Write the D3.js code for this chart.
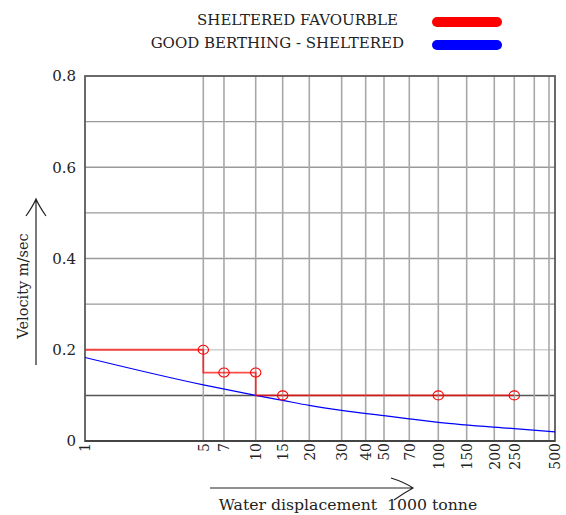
<!DOCTYPE html>
<html>
<head>
<meta charset="utf-8">
<script src="https://cdn.jsdelivr.net/npm/d3@7"></script>
<style>
  html, body { margin: 0; padding: 0; background: #fff; }
  svg { display: block; }
  text { font-family: "DejaVu Serif", "Liberation Serif", serif; fill: #222; white-space: pre; }
</style>
</head>
<body>
<svg id="chart" width="566" height="515"></svg>
<script>
// ---- data ----
const xTickValues = [1, 5, 7, 10, 15, 20, 30, 40, 50, 70, 100, 150, 200, 250, 500];
const xGridExtra = [300, 400];               // unlabelled grid lines
const yTickValues = [0, 0.2, 0.4, 0.6, 0.8];
const yGridValues = [0.1, 0.2, 0.3, 0.4, 0.5, 0.6, 0.7];

// Sheltered favourable (red step line)
const redStepX = [1, 5, 10, 250];
const redStepY = [0.2, 0.15, 0.1, 0.1];
const redMarkerX = [5, 7, 10, 15, 100, 250];
const redMarkerY = [0.2, 0.15, 0.15, 0.1, 0.1, 0.1];

// Good berthing - sheltered (blue curve)
const blueX = [1, 5, 10, 15, 20, 30, 50, 70, 100, 250, 500];
const blueY = [0.183, 0.123, 0.1, 0.089, 0.078, 0.067, 0.0555, 0.0485, 0.041, 0.027, 0.02];

const legendLabels = ["SHELTERED FAVOURBLE", "GOOD BERTHING - SHELTERED"];
const legendColors = ["#ff0000", "#0000ff"];
const yTitle = "Velocity m/sec";
const xTitle = "Water displacement  1000 tonne";

// ---- layout ----
const pLeft = 85, pRight = 555, pTop = 76, pBottom = 441;
// the chart's x axis is a hand-spaced, roughly logarithmic scale
const xDomainKnots = [1, 5, 7, 10, 15, 20, 30, 40, 50, 70, 100, 150, 200, 250, 300, 400, 500];
const xRangeFrac = [0, 0.2517, 0.2957, 0.3632, 0.4206, 0.4772, 0.5461, 0.5972, 0.6362, 0.6900, 0.7517, 0.8121, 0.8708, 0.9134, 0.9559, 0.9872, 1];

const svg = d3.select("#chart");
const x = d3.scaleLinear()
  .domain(xDomainKnots)
  .range(xRangeFrac.map(f => pLeft + f * (pRight - pLeft)));
const y = d3.scaleLinear().domain([0, 0.8]).range([pBottom, pTop]);

// horizontal grid
svg.append("g").selectAll("line").data(yGridValues).join("line")
  .attr("x1", pLeft).attr("x2", pRight)
  .attr("y1", d => y(d)).attr("y2", d => y(d))
  .attr("stroke", d => d === 0.1 ? "#555" : (d === 0.2 ? "#cfcfcf" : "#9a9a9a"))
  .attr("stroke-width", d => d === 0.1 ? 1.5 : 1.3);

// vertical grid
const xGridVals = xTickValues.filter(v => v !== 1 && v !== 500).concat(xGridExtra);
svg.append("g").selectAll("line").data(xGridVals).join("line")
  .attr("x1", d => x(d)).attr("x2", d => x(d))
  .attr("y1", pTop).attr("y2", pBottom)
  .attr("stroke", "#a8a8a8")
  .attr("stroke-width", 1.6);

// frame
svg.append("rect")
  .attr("x", pLeft).attr("y", pTop)
  .attr("width", pRight - pLeft).attr("height", pBottom - pTop)
  .attr("fill", "none").attr("stroke", "#5a5a5a").attr("stroke-width", 1.8);
svg.append("line")
  .attr("x1", pLeft).attr("x2", pRight).attr("y1", pBottom).attr("y2", pBottom)
  .attr("stroke", "#444").attr("stroke-width", 2);

// y axis labels
const yAxis = d3.axisLeft(y).tickValues(yTickValues)
  .tickFormat(d => d === 0 ? "0" : d3.format(".1f")(d))
  .tickSize(0).tickPadding(9);
const gy = svg.append("g").attr("transform", `translate(${pLeft},0)`).call(yAxis);
gy.select(".domain").remove();
gy.selectAll("text").style("font-family", '"DejaVu Serif", serif').style("font-size", "15px").attr("fill", "#222");

// x axis labels (rotated)
const xAxis = d3.axisBottom(x).tickValues(xTickValues).tickFormat(d3.format("d")).tickSize(0).tickPadding(0);
const gx = svg.append("g").attr("transform", `translate(0,${pBottom})`).call(xAxis);
gx.select(".domain").remove();
gx.selectAll("text")
  .style("font-family", '"DejaVu Serif", serif').style("font-size", "14px").attr("fill", "#222")
  .attr("transform", "rotate(-90)")
  .attr("text-anchor", "end")
  .attr("x", -2).attr("y", 0).attr("dy", "0.35em");

// blue curve
const line = d3.line().x(d => x(d[0])).y(d => y(d[1]));
svg.append("path")
  .datum(blueX.map((v, i) => [v, blueY[i]]))
  .attr("d", line.curve(d3.curveMonotoneX))
  .attr("fill", "none").attr("stroke", "#0000ff").attr("stroke-width", 1.2);

// red step line
svg.append("path")
  .datum(redStepX.map((v, i) => [v, redStepY[i]]))
  .attr("d", d3.line().x(d => x(d[0])).y(d => y(d[1])).curve(d3.curveStepAfter))
  .attr("fill", "none").attr("stroke", "#ff0000").attr("stroke-opacity", 0.7).attr("stroke-width", 1.8);

// red markers
svg.append("g").selectAll("ellipse").data(redMarkerX.map((v, i) => [v, redMarkerY[i]])).join("ellipse")
  .attr("cx", d => x(d[0])).attr("cy", d => y(d[1]))
  .attr("rx", 5.2).attr("ry", 4.5)
  .attr("fill", "none").attr("stroke", "#ff0000").attr("stroke-width", 1.1);

// legend
const leg = svg.append("g");
leg.selectAll("text").data(legendLabels).join("text")
  .attr("x", (d, i) => i === 0 ? 398 : 404)
  .attr("y", (d, i) => 24.5 + i * 23.3)
  .attr("text-anchor", "end")
  .style("font-size", "15px")
  .text(d => d);
leg.selectAll("line").data(legendColors).join("line")
  .attr("x1", 437).attr("x2", 497)
  .attr("y1", (d, i) => 22 + i * 23).attr("y2", (d, i) => 22 + i * 23)
  .attr("stroke", d => d).attr("stroke-width", 10).attr("stroke-linecap", "round");

// y title with arrow
svg.append("text")
  .attr("transform", "translate(28,286) rotate(-90)")
  .attr("text-anchor", "middle")
  .style("font-size", "14.5px")
  .text(yTitle);
svg.append("path")
  .attr("d", "M36,365 L36,199 M26,216 Q33,206 36,199 Q39,206 46,216")
  .attr("fill", "none").attr("stroke", "#222").attr("stroke-width", 1.2);

// x title with arrow
svg.append("text")
  .attr("x", 348).attr("y", 510)
  .attr("text-anchor", "middle")
  .attr("xml:space", "preserve")
  .style("font-size", "15.7px")
  .text(xTitle);
svg.append("path")
  .attr("d", "M210,488 L413,488 M391,478 Q404,482 413,488 Q404,493 394,500")
  .attr("fill", "none").attr("stroke", "#222").attr("stroke-width", 1.2);
</script>
</body>
</html>
